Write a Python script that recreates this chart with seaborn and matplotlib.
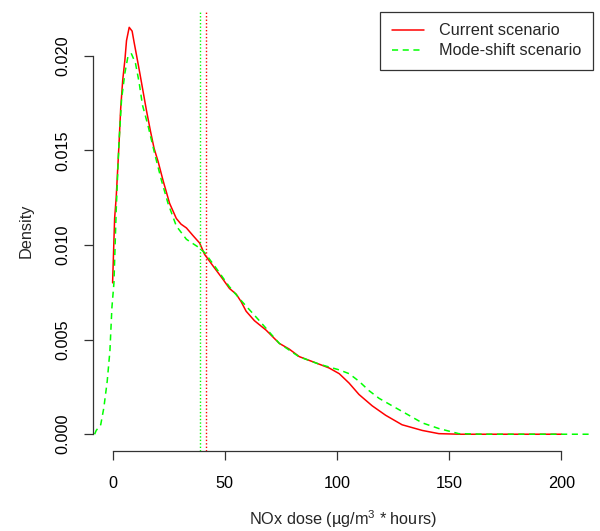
import numpy as np
import pandas as pd
import seaborn as sns
import matplotlib
matplotlib.use("Agg")
import matplotlib.pyplot as plt

# density curves
cur_x = [0, 0.9, 1.6, 2.8, 3.6, 4.5, 5.5, 6.2, 7.4, 8.7, 9.6, 10.7, 12.1, 13.6,
         15.1, 16.9, 18.5, 20.3, 22.5, 25.4, 28.4, 30.5, 32.9, 35.8, 38.8, 41,
         44.7, 49.1, 52.1, 55.1, 57.3, 59.5, 63.2, 68.4, 74.3, 78.7, 83.2, 92.1,
         96.5, 101, 105.4, 109.8, 115.7, 121.7, 129, 138, 145.4, 155, 170, 200]
cur_y = [0.0080, 0.0114, 0.0125, 0.0152, 0.0172, 0.0187, 0.0198, 0.0208, 0.0215,
         0.0213, 0.0207, 0.0200, 0.0191, 0.0181, 0.0171, 0.0160, 0.0151, 0.0144,
         0.0134, 0.0122, 0.0114, 0.0111, 0.0109, 0.0105, 0.0101, 0.0095, 0.0089,
         0.0082, 0.0077, 0.0074, 0.0070, 0.0065, 0.0060, 0.0055, 0.0048, 0.0045,
         0.0041, 0.0037, 0.0035, 0.0032, 0.0027, 0.0021, 0.0015, 0.0010, 0.0005,
         0.0002, 0.00003, 0.0, 0.0, 0.0]

ms_x = [-8, -7.3, -5.3, -3.9, -2.4, -1.2, -0.3, 0.6, 1.6, 2.8, 4.0, 5.5, 6.9, 8.4,
        10.2, 11.8, 13.3, 15.8, 18.8, 21.8, 24.7, 28.4, 32.9, 38, 41, 46, 52, 57,
        65.4, 71.3, 74.3, 83, 92.1, 101, 105.4, 109.8, 114.3, 118.7, 124.6, 130.6,
        138, 145.4, 154.3, 165, 190, 213]
ms_y = [0.0, 0.0002, 0.0005, 0.0014, 0.0028, 0.0044, 0.0067, 0.0080, 0.0118,
        0.0153, 0.0177, 0.0191, 0.0200, 0.0201, 0.0196, 0.0186, 0.0174, 0.0163,
        0.0148, 0.0134, 0.0122, 0.0110, 0.0103, 0.0099, 0.0096, 0.0088, 0.0078,
        0.0071, 0.0060, 0.0052, 0.0048, 0.0041, 0.0037, 0.0034, 0.0032, 0.0028,
        0.0023, 0.0019, 0.0015, 0.0011, 0.0006, 0.0003, 0.00003, 0.0, 0.0, 0.0]

cur_mean = 41.7
ms_mean = 39.1

labels = ["Current scenario", "Mode-shift scenario"]
x_ticks = [0, 50, 100, 150, 200]
y_ticks = [0.000, 0.005, 0.010, 0.015, 0.020]

sns.set_style("white")
plt.rcParams["font.family"] = ["Liberation Sans", "DejaVu Sans"]
plt.rcParams["mathtext.fontset"] = "custom"
plt.rcParams["mathtext.rm"] = "Liberation Sans"
plt.rcParams["mathtext.it"] = "Liberation Sans"

fs = 11.7
fig = plt.figure(figsize=(6, 5.31), dpi=100)
ax = fig.add_axes([0.1555, 0.1516, 0.8325, 0.8265])

sns.lineplot(x=cur_x, y=cur_y, ax=ax, color="#ff0000", lw=1.1, sort=False,
             label=labels[0])
sns.lineplot(x=ms_x, y=ms_y, ax=ax, color="#00ff00", lw=1.1, sort=False,
             label=labels[1], linestyle=(0, (4, 3)))
ax.axvline(ms_mean, color="#00ff00", lw=1.0, linestyle=(0, (1, 1.5)))
ax.axvline(cur_mean, color="#ff0000", lw=1.0, linestyle=(0, (1, 1.5)))

ax.set_xlim(-8.6, 214)
ax.set_ylim(-0.00086, 0.02233)
ax.set_xticks(x_ticks)
ax.set_xticklabels([str(t) for t in x_ticks], fontsize=fs)
ax.set_yticks(y_ticks)
ax.set_yticklabels(["%.3f" % t for t in y_ticks], fontsize=fs, rotation=90,
                   va="center")
ax.tick_params(axis="both", direction="out", length=6.7, width=0.9,
               color="#333333", labelcolor="black")
ax.tick_params(axis="x", bottom=True, pad=12)
ax.tick_params(axis="y", left=True, pad=9.5)

for s in ["top", "right"]:
    ax.spines[s].set_visible(False)
ax.spines["left"].set_bounds(0, 0.02)
ax.spines["bottom"].set_bounds(0, 200)
for s in ["left", "bottom"]:
    ax.spines[s].set_color("#333333")
    ax.spines[s].set_linewidth(0.9)

ax.set_xlabel("NOx dose (µg/m$^3$ * hours)", fontsize=fs, labelpad=12)
ax.set_ylabel("Density", fontsize=fs, labelpad=16)

leg = ax.legend(loc="upper right", bbox_to_anchor=(1.0, 1.0), borderaxespad=0,
                fontsize=fs, frameon=True, fancybox=False, handlelength=2.0,
                handletextpad=0.9, labelspacing=0.3, borderpad=0.72)
leg.get_frame().set_edgecolor("black")
leg.get_frame().set_linewidth(0.9)

fig.savefig("out.png", dpi=100, facecolor="white")
